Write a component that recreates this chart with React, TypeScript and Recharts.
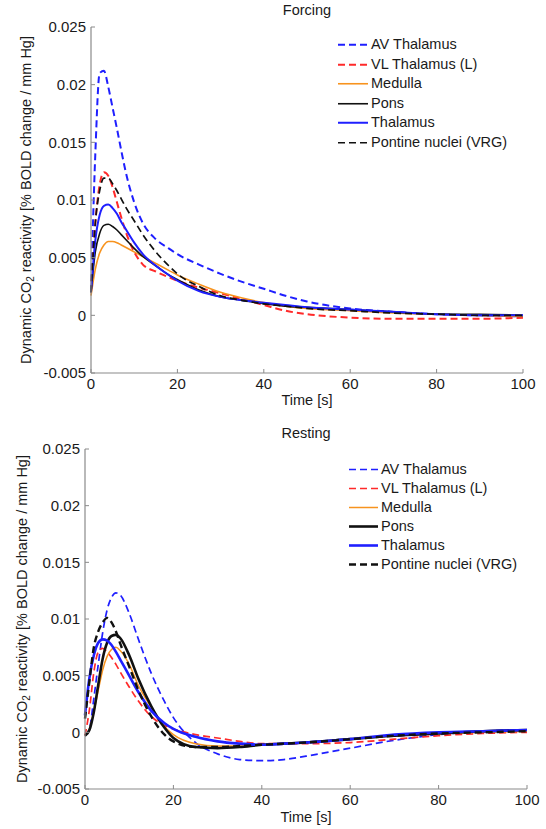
import React from "react";
import { LineChart, Line, XAxis, YAxis } from "recharts";

// ---------- data ----------
const timeS = [0, 1, 2, 3, 4, 5, 6, 7, 8, 10, 12, 15, 18, 20, 25, 30, 35, 40, 45, 50, 60, 70, 80, 90, 100];

// Forcing
const fAV = [0.002, 0.014, 0.021, 0.0212, 0.0198, 0.018, 0.0162, 0.0143, 0.0125, 0.0098, 0.008, 0.0066, 0.0058, 0.0053, 0.0044, 0.0036, 0.0029, 0.0023, 0.0017, 0.0012, 0.0006, 0.0003, 0.0001, 0.0, -0.0001];
const fVL = [0.002, 0.008, 0.0113, 0.0124, 0.0121, 0.0111, 0.0098, 0.0085, 0.0073, 0.0055, 0.0044, 0.0038, 0.0033, 0.003, 0.0024, 0.0019, 0.0014, 0.0009, 0.0004, 0.0001, -0.0002, -0.0003, -0.0003, -0.0003, -0.0002];
const fMedulla = [0.0017, 0.004, 0.0054, 0.0061, 0.0064, 0.0064, 0.0063, 0.0061, 0.0059, 0.0055, 0.0051, 0.0045, 0.0039, 0.0035, 0.0027, 0.002, 0.0015, 0.0011, 0.0008, 0.0006, 0.0004, 0.0002, 0.0001, 0.0, -0.0001];
const fPons = [0.002, 0.0055, 0.0071, 0.0078, 0.0079, 0.0077, 0.0074, 0.007, 0.0066, 0.0058, 0.0051, 0.0043, 0.0035, 0.0031, 0.0022, 0.0016, 0.0013, 0.001, 0.0008, 0.0007, 0.0005, 0.0003, 0.0001, 0.0001, 0.0];
const fThalamus = [0.002, 0.0065, 0.0087, 0.0095, 0.0096, 0.0093, 0.0088, 0.0081, 0.0075, 0.0063, 0.0053, 0.0043, 0.0035, 0.003, 0.0021, 0.0016, 0.0013, 0.0011, 0.0009, 0.0007, 0.0005, 0.0003, 0.0001, 0.0, 0.0];
const fPontine = [0.002, 0.008, 0.0108, 0.0119, 0.0119, 0.0114, 0.0108, 0.0101, 0.0094, 0.0082, 0.007, 0.0055, 0.0043, 0.0036, 0.0025, 0.0017, 0.0013, 0.001, 0.0008, 0.0006, 0.0004, 0.0002, 0.0001, 0.0, 0.0];

// Resting
const rAV = [-0.0003, 0.0003, 0.003, 0.006, 0.0088, 0.0108, 0.0119, 0.0123, 0.0121, 0.0105, 0.0083, 0.0052, 0.0027, 0.0013, -0.0009, -0.0019, -0.0024, -0.0025, -0.0024, -0.0021, -0.0014, -0.0007, -0.0002, 0.0001, 0.0002];
const rVL = [-0.0003, 0.002, 0.0053, 0.0071, 0.0074, 0.0071, 0.0066, 0.006, 0.0053, 0.004, 0.0028, 0.0014, 0.0006, 0.0003, -0.0002, -0.0005, -0.0008, -0.001, -0.001, -0.001, -0.0009, -0.0006, -0.0003, -0.0001, 0.0];
const rMedulla = [-0.0003, 0.0003, 0.0018, 0.0037, 0.0055, 0.0067, 0.0073, 0.0075, 0.0072, 0.006, 0.0042, 0.0022, 0.0005, -0.0002, -0.001, -0.0012, -0.0012, -0.0011, -0.001, -0.0009, -0.0006, -0.0003, -0.0001, 0.0, 0.0001];
const rPons = [-0.0003, 0.0002, 0.0018, 0.0042, 0.0065, 0.0079, 0.0085, 0.0086, 0.0083, 0.0068, 0.0048, 0.0023, 0.0004, -0.0005, -0.0013, -0.0014, -0.0013, -0.0011, -0.001, -0.0009, -0.0006, -0.0003, -0.0001, 0.0001, 0.0002];
const rThalamus = [0.0015, 0.0048, 0.0068, 0.0079, 0.0082, 0.0081, 0.0077, 0.0071, 0.0064, 0.005, 0.0036, 0.0019, 0.0008, 0.0003, -0.0004, -0.0008, -0.001, -0.0011, -0.001, -0.0009, -0.0006, -0.0002, 0.0, 0.0001, 0.0002];
const rPontine = [0.0012, 0.0045, 0.0075, 0.0089, 0.0097, 0.0101, 0.0097, 0.0089, 0.0078, 0.0058, 0.0038, 0.0014, -0.0002, -0.0008, -0.0013, -0.0013, -0.0012, -0.0011, -0.001, -0.0009, -0.0006, -0.0003, -0.0001, 0.0, 0.0001];

const xTicks = [0, 20, 40, 60, 80, 100];
const yTicks = [-0.005, 0, 0.005, 0.01, 0.015, 0.02, 0.025];
const seriesNames = ["AV Thalamus", "VL Thalamus (L)", "Medulla", "Pons", "Thalamus", "Pontine nuclei (VRG)"];
const titles = ["Forcing", "Resting"];
const xLabel = "Time [s]";

// ---------- styles ----------
const FONT = '"Liberation Sans", Arial, sans-serif';
const BLUE = "#1f1fff";
const RED = "#ff2a2a";
const ORANGE = "#f7931e";
const BLACK = "#111111";
const AXIS = "#8a8a8a";

type Style = { color: string; dash?: string; width: number };

const forcingStyles: Style[] = [
  { color: BLUE, dash: "7 4", width: 2 },
  { color: RED, dash: "7 4", width: 2 },
  { color: ORANGE, width: 1.6 },
  { color: BLACK, width: 1.6 },
  { color: BLUE, width: 2 },
  { color: BLACK, dash: "7 4", width: 1.7 },
];
const restingStyles: Style[] = [
  { color: BLUE, dash: "7 4", width: 1.7 },
  { color: RED, dash: "7 4", width: 1.7 },
  { color: ORANGE, width: 1.5 },
  { color: BLACK, width: 2.6 },
  { color: BLUE, width: 2.6 },
  { color: BLACK, dash: "7 4", width: 2.4 },
];

const buildRows = (series: number[][]) =>
  timeS.map((t, i) => {
    const row: Record<string, number> = { t };
    seriesNames.forEach((n, k) => {
      row[n] = series[k][i];
    });
    return row;
  });

const forcingData = buildRows([fAV, fVL, fMedulla, fPons, fThalamus, fPontine]);
const restingData = buildRows([rAV, rVL, rMedulla, rPons, rThalamus, rPontine]);

const makeYLabel = (cx: number) => (props: any) => {
  const vb = props.viewBox || {};
  const cy = (vb.y || 0) + (vb.height || 0) / 2;
  return (
    <text
      transform={`translate(${cx}, ${cy}) rotate(-90)`}
      textAnchor="middle"
      dominantBaseline="central"
      fontSize={14.5}
      fontFamily={FONT}
      fill="#1a1a1a"
    >
      Dynamic CO
      <tspan fontSize={10} dy={4}>2</tspan>
      <tspan dy={-4}> reactivity [% BOLD change / mm Hg]</tspan>
    </text>
  );
};

const makeXLabel = (off: number) => (props: any) => {
  const vb = props.viewBox || {};
  return (
    <text
      x={(vb.x || 0) + (vb.width || 0) / 2}
      y={(vb.y || 0) + off}
      textAnchor="middle"
      fontSize={14.5}
      fontFamily={FONT}
      fill="#1a1a1a"
    >
      {xLabel}
    </text>
  );
};

function LegendBox(props: { styles: Style[]; rowH: number; sampleW: number; left: number; top: number }) {
  const { styles, rowH, sampleW, left, top } = props;
  return (
    <div style={{ position: "absolute", left, top, fontFamily: FONT, fontSize: 14.5, color: "#1a1a1a" }}>
      {seriesNames.map((n, i) => (
        <div key={n} style={{ display: "flex", alignItems: "center", height: rowH, whiteSpace: "nowrap" }}>
          <svg width={sampleW} height={rowH} style={{ display: "block" }}>
            <line
              x1={0}
              x2={sampleW}
              y1={rowH / 2}
              y2={rowH / 2}
              stroke={styles[i].color}
              strokeWidth={styles[i].width}
              strokeDasharray={styles[i].dash ? "7 4" : undefined}
            />
          </svg>
          <span style={{ marginLeft: 3, lineHeight: `${rowH}px` }}>{n}</span>
        </div>
      ))}
    </div>
  );
}

type PanelProps = {
  top: number;
  height: number;
  data: Record<string, number>[];
  styles: Style[];
  margin: { top: number; right: number; left: number; bottom: number };
  yWidth: number;
  xHeight: number;
  yLabelX: number;
  xLabelOff: number;
  legendPos: { left: number; top: number };
  legendRow: number;
  sampleW: number;
  title: string;
  titleX: number;
  titleY: number;
};

function Panel(p: PanelProps) {
  return (
    <div style={{ position: "absolute", left: 0, top: p.top, width: 546, height: p.height }}>
      <LineChart width={546} height={p.height} data={p.data} margin={p.margin}>
        <XAxis
          dataKey="t"
          type="number"
          domain={[0, 100]}
          ticks={xTicks}
          height={p.xHeight}
          stroke={AXIS}
          tickSize={-4}
          tickMargin={9}
          tick={{ fill: "#1a1a1a", fontSize: 15, fontFamily: FONT }}
          tickLine={{ stroke: AXIS }}
          axisLine={{ stroke: AXIS, strokeWidth: 1.2 }}
          label={{ content: makeXLabel(p.xLabelOff) } as any}
        />
        <YAxis
          type="number"
          domain={[-0.005, 0.025]}
          ticks={yTicks}
          width={p.yWidth}
          stroke={AXIS}
          tickSize={-4}
          tickMargin={9}
          interval={0}
          tick={{ fill: "#1a1a1a", fontSize: 15, fontFamily: FONT }}
          tickLine={{ stroke: AXIS }}
          axisLine={{ stroke: AXIS, strokeWidth: 1.2 }}
          tickFormatter={(v: number) => String(v)}
          label={{ content: makeYLabel(p.yLabelX) } as any}
        />
        {seriesNames.map((n, i) => (
          <Line
            key={n}
            dataKey={n}
            type="monotone"
            stroke={p.styles[i].color}
            strokeWidth={p.styles[i].width}
            strokeDasharray={p.styles[i].dash}
            dot={false}
            activeDot={false}
            isAnimationActive={false}
          />
        ))}
      </LineChart>
      <div
        style={{
          position: "absolute",
          left: p.titleX - 100,
          width: 200,
          top: p.titleY - 9,
          height: 18,
          lineHeight: "18px",
          textAlign: "center",
          fontFamily: FONT,
          fontSize: 14.5,
          color: "#1a1a1a",
        }}
      >
        {p.title}
      </div>
      <LegendBox styles={p.styles} rowH={p.legendRow} sampleW={p.sampleW} left={p.legendPos.left} top={p.legendPos.top} />
    </div>
  );
}

export default function App() {
  return (
    <div style={{ position: "absolute", left: 0, top: 0, width: 546, height: 829, background: "#fff" }}>
      <Panel
        top={0}
        height={410}
        data={forcingData}
        styles={forcingStyles}
        margin={{ top: 27, right: 23, left: 0, bottom: 0 }}
        yWidth={91}
        xHeight={37}
        yLabelX={26}
        xLabelOff={32}
        legendPos={{ left: 338, top: 35 }}
        legendRow={19.5}
        sampleW={30}
        title={titles[0]}
        titleX={307}
        titleY={10}
      />
      <Panel
        top={410}
        height={419}
        data={restingData}
        styles={restingStyles}
        margin={{ top: 39, right: 19, left: 0, bottom: 0 }}
        yWidth={85}
        xHeight={40}
        yLabelX={22}
        xLabelOff={33}
        legendPos={{ left: 349, top: 50 }}
        legendRow={19}
        sampleW={29}
        title={titles[1]}
        titleX={306}
        titleY={23}
      />
    </div>
  );
}
